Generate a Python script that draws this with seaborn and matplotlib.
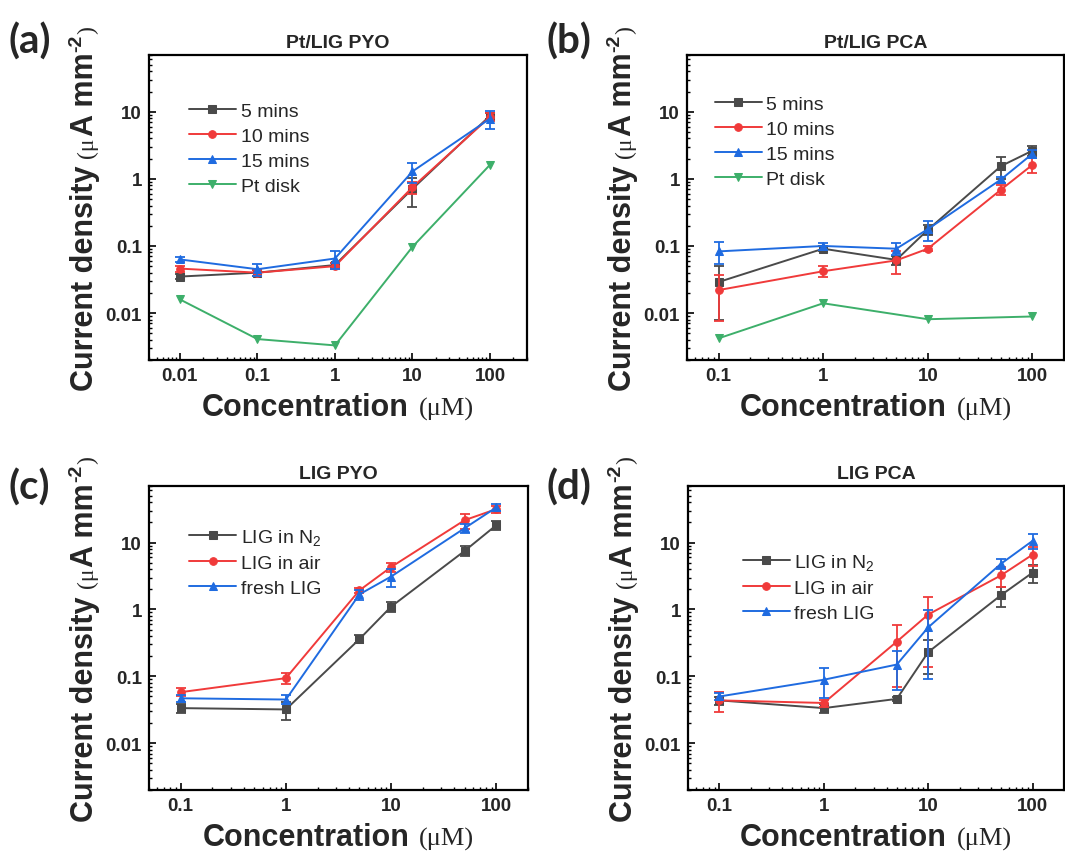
import numpy as np
import pandas as pd
import matplotlib
matplotlib.use("Agg")
import matplotlib.pyplot as plt
import seaborn as sns
from matplotlib.transforms import IdentityTransform
from matplotlib.ticker import FixedLocator, FixedFormatter, LogLocator, NullFormatter

sns.set_style("ticks")
plt.rcParams["font.family"] = ["Liberation Sans", "DejaVu Sans"]
plt.rcParams["mathtext.default"] = "regular"

# ---------------- data ----------------
# (a) Pt/LIG, pyocyanin
conc_a = [0.01, 0.1, 1, 10, 100]
pyo_pt_5 = [0.035, 0.040, 0.052, 0.71, 8.7]
pyo_pt_5_err = [0.003, 0.004, 0.004, 0.33, 1.0]
pyo_pt_10 = [0.046, 0.040, 0.050, 0.75, 8.4]
pyo_pt_10_err = [0.005, 0.004, 0.005, 0.15, 1.2]
pyo_pt_15 = [0.063, 0.045, 0.065, 1.29, 7.9]
pyo_pt_15_err = [0.006, 0.009, 0.020, 0.42, 2.3]
pyo_pt_disk = [0.016, 0.0041, 0.0033, 0.097, 1.62]

# (b) Pt/LIG, phenazine-1-carboxylic acid
conc_b = [0.1, 1, 5, 10, 50, 100]
pca_pt_5 = [0.029, 0.091, 0.062, 0.174, 1.55, 2.63]
pca_pt_5_err = [0.021, 0.008, 0.010, 0.030, 0.55, 0.45]
pca_pt_10 = [0.022, 0.042, 0.061, 0.091, 0.69, 1.62]
pca_pt_10_err = [0.0145, 0.008, 0.023, 0.008, 0.12, 0.40]
pca_pt_15 = [0.083, 0.100, 0.091, 0.178, 0.98, 2.37]
pca_pt_15_err = [0.030, 0.012, 0.018, 0.060, 0.10, 0.30]
conc_b_disk = [0.1, 1, 10, 100]
pca_pt_disk = [0.0042, 0.014, 0.0081, 0.0089]

# (c) bare LIG, pyocyanin
conc_cd = [0.1, 1, 5, 10, 50, 100]
pyo_n2 = [0.0335, 0.032, 0.36, 1.10, 7.5, 18.2]
pyo_n2_err = [0.005, 0.010, 0.05, 0.18, 1.3, 3.0]
pyo_air = [0.058, 0.094, 1.93, 4.3, 21.6, 31.6]
pyo_air_err = [0.008, 0.018, 0.15, 0.7, 5.5, 3.5]
pyo_fresh = [0.047, 0.045, 1.68, 3.1, 16.4, 33.5]
pyo_fresh_err = [0.005, 0.007, 0.30, 0.9, 2.5, 4.0]

# (d) bare LIG, phenazine-1-carboxylic acid
pca_n2 = [0.0437, 0.0335, 0.046, 0.23, 1.64, 3.55]
pca_n2_err = [0.006, 0.005, 0.003, 0.12, 0.56, 1.05]
pca_air = [0.0437, 0.040, 0.33, 0.84, 3.24, 6.6]
pca_air_err = [0.014, 0.005, 0.26, 0.70, 1.05, 2.1]
pca_fresh = [0.050, 0.089, 0.15, 0.54, 4.84, 10.6]
pca_fresh_err = [0.006, 0.042, 0.087, 0.45, 0.80, 2.6]

titles = ["Pt/LIG PYO", "Pt/LIG PCA", "LIG PYO", "LIG PCA"]
panel_tags = ["(a)", "(b)", "(c)", "(d)"]
pt_labels = ["5 mins", "10 mins", "15 mins", "Pt disk"]
lig_labels = ["LIG in N$_2$", "LIG in air", "fresh LIG"]

GREY, RED, BLUE, GREEN = "#4a4a4a", "#f03a3a", "#1f6be0", "#3daf6a"

# ---------------- figure ----------------
W, H = 1065, 854
fig = plt.figure(figsize=(W / 100, H / 100), dpi=100)

def px_axes(left, top, right, bottom):
    return fig.add_axes([left / W, 1 - bottom / H, (right - left) / W, (bottom - top) / H])

axes = [
    px_axes(149, 56, 527, 361),
    px_axes(687, 56, 1064, 361),
    px_axes(149, 487, 528, 791),
    px_axes(688, 487, 1064, 791),
]

def draw_series(ax, x, y, err, color, marker, label, ms=5.5):
    sns.lineplot(x=x, y=y, ax=ax, color=color, marker=marker, markersize=ms,
                 markeredgecolor=color, linewidth=1.4, label=label, legend=False)
    if err is not None:
        ax.errorbar(x, y, yerr=err, fmt="none", ecolor=color, elinewidth=1.3,
                    capsize=3.5, capthick=1.3)

ax = axes[0]
draw_series(ax, conc_a, pyo_pt_5, pyo_pt_5_err, GREY, "s", pt_labels[0])
draw_series(ax, conc_a, pyo_pt_10, pyo_pt_10_err, RED, "o", pt_labels[1])
draw_series(ax, conc_a, pyo_pt_15, pyo_pt_15_err, BLUE, "^", pt_labels[2], 6)
draw_series(ax, conc_a, pyo_pt_disk, None, GREEN, "v", pt_labels[3], 6)

ax = axes[1]
draw_series(ax, conc_b, pca_pt_5, pca_pt_5_err, GREY, "s", pt_labels[0])
draw_series(ax, conc_b, pca_pt_10, pca_pt_10_err, RED, "o", pt_labels[1])
draw_series(ax, conc_b, pca_pt_15, pca_pt_15_err, BLUE, "^", pt_labels[2], 6)
draw_series(ax, conc_b_disk, pca_pt_disk, None, GREEN, "v", pt_labels[3], 6)

ax = axes[2]
draw_series(ax, conc_cd, pyo_n2, pyo_n2_err, GREY, "s", lig_labels[0])
draw_series(ax, conc_cd, pyo_air, pyo_air_err, RED, "o", lig_labels[1])
draw_series(ax, conc_cd, pyo_fresh, pyo_fresh_err, BLUE, "^", lig_labels[2], 6)

ax = axes[3]
draw_series(ax, conc_cd, pca_n2, pca_n2_err, GREY, "s", lig_labels[0])
draw_series(ax, conc_cd, pca_air, pca_air_err, RED, "o", lig_labels[1])
draw_series(ax, conc_cd, pca_fresh, pca_fresh_err, BLUE, "^", lig_labels[2], 6)

xlims = [(0.004, 300), (0.05, 200), (0.05, 200), (0.05, 200)]
xmajor = [[0.01, 0.1, 1, 10, 100], [0.1, 1, 10, 100], [0.1, 1, 10, 100], [0.1, 1, 10, 100]]
ymajor = [0.01, 0.1, 1, 10]
legend_anchor = [(0.106, 0.845), (0.074, 0.868), (0.106, 0.866), (0.146, 0.782)]
# baseline of the panel tag, in pixels below the top of its axes
tag_drop = [-2, -2, 13, 13]

def fmt(v):
    return f"{v:g}"

for i, ax in enumerate(axes):
    ax.set_xscale("log")
    ax.set_yscale("log")
    ax.set_xlim(*xlims[i])
    ax.set_ylim(0.002, 70)
    ax.xaxis.set_major_locator(FixedLocator(xmajor[i]))
    ax.xaxis.set_major_formatter(FixedFormatter([fmt(v) for v in xmajor[i]]))
    ax.yaxis.set_major_locator(FixedLocator(ymajor))
    ax.yaxis.set_major_formatter(FixedFormatter([fmt(v) for v in ymajor]))
    for axis in (ax.xaxis, ax.yaxis):
        axis.set_minor_locator(LogLocator(base=10, subs=np.arange(2, 10), numticks=20))
        axis.set_minor_formatter(NullFormatter())
    ax.tick_params(which="both", direction="in", top=False, right=False, color="black")
    ax.tick_params(which="major", length=5, width=1.2, pad=5)
    ax.tick_params(which="minor", length=2.5, width=1.0)
    for lab in ax.get_xticklabels() + ax.get_yticklabels():
        lab.set_fontsize(13.5)
        lab.set_fontweight("bold")
    for sp in ax.spines.values():
        sp.set_visible(True)
        sp.set_linewidth(1.6)
        sp.set_color("black")
    ax.set_xlabel("")
    ax.set_ylabel("")
    ax.set_title(titles[i], fontsize=14, fontweight="bold", pad=6)
    ax.legend(loc="upper left", bbox_to_anchor=legend_anchor[i], frameon=False,
              fontsize=14, handlelength=2.4, handletextpad=0.25,
              labelspacing=0.38, borderpad=0, borderaxespad=0)

# ---------------- composite axis labels ----------------
renderer = fig.canvas.get_renderer()
BOLD = dict(family=["Liberation Sans", "DejaVu Sans"], weight="bold")
SERIF = dict(family=["Liberation Serif", "DejaVu Serif"], weight="normal")

def run_text(pieces, rotation):
    """Create text pieces and measure their lengths along the baseline."""
    made = []
    for s, size, props, rise, gap in pieces:
        t = fig.text(0, 0, s, fontsize=size, rotation=rotation, rotation_mode="anchor",
                     ha="left", va="baseline", transform=IdentityTransform(), **props)
        bb = t.get_window_extent(renderer)
        length = bb.width if rotation == 0 else bb.height
        made.append((t, length, rise, gap))
    total = sum(l + g for _, l, _, g in made)
    return made, total

def place_xlabel(ax, pieces, baseline_below=55):
    bb = ax.get_window_extent(renderer)
    made, total = run_text(pieces, 0)
    x = (bb.x0 + bb.x1) / 2 - total / 2
    y = bb.y0 - baseline_below
    for t, length, rise, gap in made:
        t.set_position((x, y + rise))
        x += length + gap

def place_ylabel(ax, pieces, baseline_left=56):
    bb = ax.get_window_extent(renderer)
    made, total = run_text(pieces, 90)
    y = (bb.y0 + bb.y1) / 2 - total / 2
    x = bb.x0 - baseline_left
    for t, length, rise, gap in made:
        t.set_position((x - rise, y))
        y += length + gap

xlabel_pieces = [("Concentration", 22, BOLD, 0, 10), ("(\u03bcM)", 19, SERIF, 0, 0)]
ylabel_pieces = [
    ("Current density", 22, BOLD, 0, 8),
    ("(\u03bc", 17, SERIF, 0, 1),
    ("A mm", 22, BOLD, 0, 1),
    ("-2", 14, BOLD, 12, 1),
    (")", 17, SERIF, 0, 0),
]

for i, ax in enumerate(axes):
    place_xlabel(ax, xlabel_pieces)
    place_ylabel(ax, ylabel_pieces)
    bb = ax.get_window_extent(renderer)
    fig.text(bb.x0 - 141, bb.y1 - tag_drop[i], panel_tags[i], fontsize=29, fontweight="bold",
             family=["Lato", "DejaVu Sans"], ha="left", va="baseline",
             transform=IdentityTransform())

fig.savefig("out.png", dpi=100)
